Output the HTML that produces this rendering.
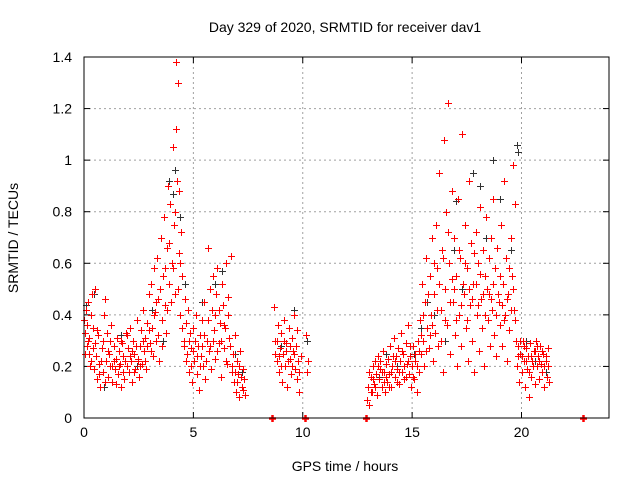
<!DOCTYPE html>
<html><head><meta charset="utf-8"><style>
body{margin:0;background:#fff}
svg{display:block;font-family:"Liberation Sans",sans-serif}
</style></head><body>
<svg id="chart" width="640" height="480">
<text x="345" y="32" font-size="14" text-anchor="middle">Day 329 of 2020, SRMTID for receiver dav1</text>
<text x="345" y="471" font-size="14" text-anchor="middle">GPS time / hours</text>
<text x="18" y="238" font-size="14" text-anchor="middle" transform="rotate(-90 18 238)">SRMTID / TECUs</text>
<g id="grid"></g>
<g id="axes"></g>
<g id="black"></g>
<g id="red"></g>
<rect x="84" y="57" width="525" height="361" fill="none" stroke="#000" stroke-width="1"/>
</svg>
<script>
const xTicks=[0,5,10,15,20];
const yTicks=[0,0.2,0.4,0.6,0.8,1,1.2,1.4];
const yTickLabels=["0","0.2","0.4","0.6","0.8","1","1.2","1.4"];
const redPoints=[[0.0,0.38],[0.05,0.33],[0.1,0.42],[0.12,0.28],[0.15,0.36],[0.2,0.45],[0.22,0.25],[0.25,0.31],[0.3,0.40],[0.33,0.22],[0.35,0.48],[0.4,0.35],[0.45,0.19],[0.5,0.29],[0.52,0.50],[0.55,0.24],[0.6,0.15],[0.65,0.32],[0.7,0.21],[0.75,0.12],[0.8,0.27],[0.85,0.18],[0.9,0.40],[0.95,0.46],[1.0,0.22],[1.05,0.33],[1.1,0.16],[1.15,0.25],[1.2,0.20],[1.25,0.36],[1.3,0.14],[1.35,0.28],[1.4,0.19],[1.45,0.23],[1.5,0.31],[1.55,0.17],[1.6,0.26],[1.65,0.21],[1.7,0.12],[1.75,0.29],[1.8,0.24],[1.85,0.15],[1.9,0.33],[1.95,0.20],[2.0,0.27],[2.05,0.18],[2.1,0.35],[2.15,0.22],[2.2,0.14],[2.25,0.30],[2.3,0.25],[2.35,0.19],[2.4,0.38],[2.45,0.23],[2.5,0.16],[2.55,0.28],[2.6,0.34],[2.65,0.21],[2.7,0.42],[2.75,0.26],[2.8,0.31],[2.85,0.19],[2.9,0.37],[2.95,0.48],[3.0,0.29],[3.05,0.52],[3.1,0.35],[3.15,0.24],[3.2,0.58],[3.25,0.41],[3.3,0.30],[3.35,0.62],[3.4,0.46],[3.45,0.22],[3.5,0.70],[3.55,0.38],[3.6,0.55],[3.65,0.78],[3.7,0.44],[3.75,0.33],[3.8,0.66],[3.85,0.90],[3.9,0.52],[3.95,0.83],[4.0,0.60],[4.05,1.05],[4.1,0.75],[4.15,0.48],[4.2,1.12],[4.22,1.38],[4.25,0.92],[4.3,1.30],[4.32,0.64],[4.35,0.88],[4.4,0.40],[4.45,0.72],[4.5,0.55],[4.55,0.30],[4.6,0.46],[4.65,0.37],[4.7,0.25],[4.75,0.42],[4.8,0.18],[4.85,0.33],[4.9,0.27],[4.95,0.14],[5.0,0.35],[5.05,0.22],[5.1,0.40],[5.15,0.17],[5.2,0.28],[5.25,0.11],[5.3,0.32],[5.35,0.24],[5.4,0.38],[5.45,0.20],[5.5,0.45],[5.55,0.15],[5.6,0.30],[5.65,0.66],[5.7,0.26],[5.75,0.50],[5.8,0.19],[5.85,0.42],[5.9,0.55],[5.95,0.34],[6.0,0.23],[6.05,0.48],[6.1,0.58],[6.15,0.29],[6.2,0.37],[6.25,0.16],[6.3,0.52],[6.35,0.44],[6.4,0.27],[6.45,0.35],[6.5,0.60],[6.55,0.21],[6.6,0.47],[6.65,0.31],[6.7,0.63],[6.75,0.18],[6.8,0.25],[6.85,0.14],[6.9,0.32],[6.95,0.10],[7.0,0.22],[7.05,0.17],[7.1,0.08],[7.15,0.26],[7.2,0.12],[7.25,0.19],[7.3,0.15],[7.35,0.09],
[0.03,0.25],[0.18,0.30],[0.28,0.20],[0.43,0.27],[0.58,0.34],[0.68,0.17],[0.78,0.22],[0.88,0.30],[0.98,0.14],[1.08,0.26],[1.18,0.30],[1.28,0.20],[1.38,0.22],[1.48,0.13],[1.58,0.20],[1.68,0.30],[1.78,0.18],[1.88,0.22],[1.98,0.32],[2.08,0.24],[2.18,0.26],[2.28,0.18],[2.38,0.28],[2.48,0.22],[2.58,0.20],[2.68,0.30],[2.78,0.22],[2.88,0.28],[2.98,0.34],[3.08,0.26],[3.18,0.40],[3.28,0.45],[3.38,0.32],[3.48,0.50],[3.58,0.28],[3.68,0.58],[3.78,0.42],[3.88,0.68],[3.98,0.45],[4.08,0.58],[4.18,0.80],[4.28,0.50],[4.38,0.60],[4.48,0.35],[4.58,0.28],[4.68,0.22],[4.78,0.30],[4.88,0.20],[4.98,0.26],[5.08,0.30],[5.18,0.24],[5.28,0.20],[5.38,0.28],[5.48,0.32],[5.58,0.22],[5.68,0.38],[5.78,0.28],[5.88,0.30],[5.98,0.40],[6.08,0.26],[6.18,0.42],[6.28,0.30],[6.38,0.36],[6.48,0.22],[6.58,0.40],[6.68,0.28],[6.78,0.20],[6.88,0.18],[6.98,0.14],[7.08,0.20],[7.18,0.16],[7.28,0.11],
[8.6,0.0],[8.7,0.43],[8.75,0.30],[8.8,0.22],[8.85,0.36],[8.9,0.18],[8.95,0.27],[9.0,0.33],[9.05,0.14],[9.1,0.25],[9.15,0.38],[9.2,0.20],[9.25,0.29],[9.3,0.12],[9.35,0.35],[9.4,0.23],[9.45,0.17],[9.5,0.31],[9.55,0.26],[9.6,0.40],[9.65,0.19],[9.7,0.28],[9.75,0.15],[9.8,0.22],[9.85,0.10],[9.9,0.24],[10.1,0.0],[10.15,0.32],[10.2,0.18],[10.25,0.22],[8.72,0.25],[8.82,0.30],[8.92,0.24],[9.02,0.20],[9.12,0.30],[9.22,0.26],[9.32,0.22],[9.42,0.28],[9.52,0.20],[9.62,0.25],[9.72,0.34],[9.82,0.18],
[12.9,0.0],[12.95,0.07],[13.0,0.12],[13.05,0.05],[13.1,0.16],[13.15,0.10],[13.2,0.20],[13.25,0.13],[13.3,0.22],[13.35,0.17],[13.4,0.09],[13.45,0.24],[13.5,0.15],[13.55,0.19],[13.6,0.12],[13.65,0.26],[13.7,0.18],[13.75,0.10],[13.8,0.21],[13.85,0.14],[13.9,0.23],[13.95,0.17],[14.0,0.28],[14.05,0.12],[14.1,0.20],[14.15,0.31],[14.2,0.16],[14.25,0.24],[14.3,0.19],[14.35,0.27],[14.4,0.13],[14.45,0.22],[14.5,0.33],[14.55,0.18],[14.6,0.25],[14.65,0.15],[14.7,0.29],[14.75,0.21],[14.8,0.36],[14.85,0.17],[14.9,0.24],[14.95,0.12],[15.0,0.20],[15.05,0.28],[15.1,0.15],[15.15,0.22],[15.2,0.10],[15.25,0.30],[15.3,0.18],[15.35,0.38],[15.4,0.25],[15.45,0.52],[15.5,0.30],[15.55,0.20],[15.6,0.45],[15.65,0.62],[15.7,0.35],[15.75,0.27],[15.8,0.55],[15.85,0.40],[15.9,0.70],[15.95,0.22],[16.0,0.48],[16.05,0.33],[16.1,0.75],[16.15,0.58],[16.2,0.28],[16.25,0.95],[16.3,0.42],[16.35,0.65],[16.4,0.18],[16.45,1.08],[16.5,0.50],[16.55,0.80],[16.6,0.36],[16.65,1.22],[16.7,0.60],[16.75,0.25],[16.8,0.88],[16.85,0.45],[16.9,0.70],[16.95,0.32],[17.0,0.55],[17.05,0.20],[17.1,0.85],[17.15,0.40],[17.2,0.62],[17.25,0.28],[17.3,1.10],[17.35,0.48],[17.4,0.75],[17.45,0.35],[17.5,0.58],[17.55,0.22],[17.6,0.92],[17.65,0.44],[17.7,0.68],[17.75,0.30],[17.8,0.52],[17.85,0.18],[17.9,0.72],[17.95,0.40],[18.0,0.60],[18.05,0.26],[18.1,0.82],[18.15,0.46],[18.2,0.35],[18.25,0.65],[18.3,0.20],[18.35,0.55],[18.4,0.78],[18.45,0.38],[18.5,0.48],[18.55,0.28],[18.6,0.70],[18.65,0.42],[18.7,0.85],[18.75,0.32],[18.8,0.58],[18.85,0.24],[18.9,0.66],[18.95,0.45],[19.0,0.36],[19.05,0.75],[19.1,0.28],[19.15,0.52],[19.2,0.92],[19.25,0.40],[19.3,0.62],[19.35,0.22],[19.4,0.48],[19.45,0.34],[19.5,0.70],[19.55,0.55],[19.6,0.98],[19.65,0.42],[19.7,0.83],[19.75,0.30],[19.8,0.20],[19.85,0.28],[19.9,0.14],[19.95,0.25],[20.0,0.18],[20.05,0.30],[20.1,0.22],[20.15,0.12],[20.2,0.27],[20.25,0.19],[20.3,0.24],[20.35,0.08],[20.4,0.29],[20.45,0.16],[20.5,0.22],[20.55,0.26],[20.6,0.13],[20.65,0.30],[20.7,0.20],[20.75,0.24],[20.8,0.15],[20.85,0.28],[20.9,0.21],[20.95,0.18],[21.0,0.25],[21.05,0.12],[21.1,0.22],[21.15,0.16],[21.2,0.27],[21.25,0.14],[22.8,0.0],
[13.02,0.18],[13.12,0.10],[13.22,0.15],[13.32,0.12],[13.42,0.20],[13.52,0.22],[13.62,0.18],[13.72,0.14],[13.82,0.16],[13.92,0.12],[14.02,0.18],[14.12,0.24],[14.22,0.22],[14.32,0.14],[14.42,0.18],[14.52,0.26],[14.62,0.20],[14.72,0.16],[14.82,0.22],[14.92,0.28],[15.02,0.16],[15.12,0.25],[15.22,0.20],[15.32,0.26],[15.42,0.32],[15.52,0.40],[15.62,0.26],[15.72,0.48],[15.82,0.32],[15.92,0.36],[16.02,0.60],[16.12,0.42],[16.22,0.52],[16.32,0.30],[16.42,0.62],[16.52,0.38],[16.62,0.72],[16.72,0.45],[16.82,0.54],[16.92,0.50],[17.02,0.38],[17.12,0.65],[17.22,0.44],[17.32,0.52],[17.42,0.60],[17.52,0.38],[17.62,0.50],[17.72,0.46],[17.82,0.64],[17.92,0.52],[18.02,0.44],[18.12,0.56],[18.22,0.48],[18.32,0.40],[18.42,0.50],[18.52,0.62],[18.62,0.46],[18.72,0.52],[18.82,0.40],[18.92,0.48],[19.02,0.55],[19.12,0.44],[19.22,0.38],[19.32,0.46],[19.42,0.58],[19.52,0.42],[19.62,0.50],[19.72,0.38],[19.82,0.24],[19.92,0.30],[20.02,0.24],[20.12,0.28],[20.22,0.22],[20.32,0.18],[20.42,0.24],[20.52,0.20],[20.62,0.26],[20.72,0.28],[20.82,0.22],[20.92,0.26],[21.02,0.20],[21.12,0.24],[21.22,0.20]];
const blackPoints=[[0.1,0.44],[0.45,0.48],[0.9,0.12],[1.7,0.32],[2.4,0.20],[3.1,0.42],[3.6,0.30],[3.9,0.92],[4.05,0.87],[4.15,0.96],[4.4,0.78],[4.6,0.52],[5.4,0.45],[6.0,0.52],[6.3,0.57],[6.9,0.25],[7.2,0.18],[9.0,0.28],[9.6,0.42],[10.2,0.30],[13.5,0.16],[14.3,0.20],[15.1,0.25],[15.7,0.45],[16.0,0.40],[16.5,0.30],[17.0,0.84],[17.3,0.50],[17.8,0.95],[18.4,0.70],[18.7,1.00],[19.0,0.85],[19.5,0.65],[19.8,1.06],[19.82,1.03],[20.2,0.30],[20.6,0.22],[21.1,0.18],[13.8,0.25],[15.4,0.35],[16.9,0.65],[18.1,0.90]];

const NS='http://www.w3.org/2000/svg';
const L=84,R=609,T=57,B=418,XMAX=24,YMAX=1.4;
function sx(v){return L+v/XMAX*(R-L);}
function sy(v){return B-v/YMAX*(B-T);}
function mk(tag,attrs,parent){const e=document.createElementNS(NS,tag);for(const k in attrs)e.setAttribute(k,attrs[k]);parent.appendChild(e);return e;}
const grid=document.getElementById('grid'),axes=document.getElementById('axes');
xTicks.forEach(t=>{
  const x=sx(t);
  if(t>0){const g=mk('line',{x1:x,x2:x,y1:T,y2:B,stroke:'#a0a0a0','stroke-dasharray':'2,3'},grid);
  
  }
  mk('line',{x1:x,x2:x,y1:B,y2:B-6,stroke:'#000'},axes);
  mk('line',{x1:x,x2:x,y1:T,y2:T+6,stroke:'#000'},axes);
  const lb=mk('text',{x:x,y:B+19,'font-size':14,'text-anchor':'middle'},axes);lb.textContent=t;
  
  
});
yTicks.forEach((t,i)=>{
  const y=sy(t);
  if(t>0&&t<YMAX){const g=mk('line',{x1:L,x2:R,y1:y,y2:y,stroke:'#a0a0a0','stroke-dasharray':'2,3'},grid);
  
  }
  mk('line',{x1:L,x2:L+6,y1:y,y2:y,stroke:'#000'},axes);
  mk('line',{x1:R,x2:R-6,y1:y,y2:y,stroke:'#000'},axes);
  const lb=mk('text',{x:L-12,y:y+5,'font-size':14,'text-anchor':'end'},axes);lb.textContent=yTickLabels[i];
  
  
});
function plus(pts,color,parent){
  pts.forEach(p=>{
    const x=Math.round(sx(p[0]))+0.5,y=Math.round(sy(p[1]))+0.5;
    const w=p[1]===0?2.5:1;
    const path=mk('path',{d:`M${x-3.5},${y}H${x+3.5}M${x},${y-3.5}V${y+3.5}`,stroke:color,'stroke-width':w,fill:'none'},parent);
    
    
  });
}
plus(blackPoints,'#333',document.getElementById('black'));
plus(redPoints,'#ff0000',document.getElementById('red'));
</script>
</body></html>
